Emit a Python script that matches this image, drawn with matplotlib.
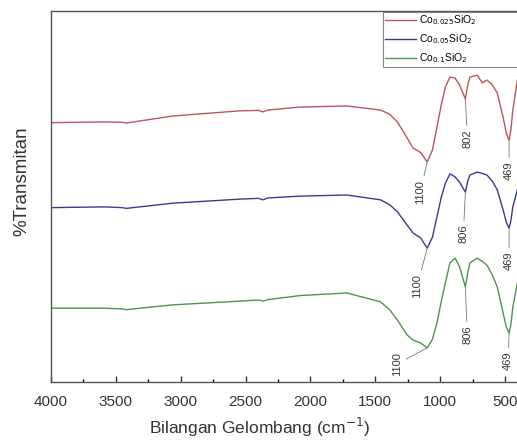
import matplotlib
matplotlib.use("Agg")
import matplotlib.pyplot as plt
from matplotlib.ticker import MultipleLocator

plt.rcParams['font.family'] = ['Liberation Sans', 'DejaVu Sans']

# FTIR spectra (wavenumber in cm-1, transmittance in arbitrary stacked units)
wavenumber = [4000, 3590, 3450, 3420, 3060, 2540, 2400, 2365, 2330, 2080, 1720,
              1460, 1390, 1330, 1255, 1210, 1150, 1100, 1060, 1025, 990, 960,
              925, 885, 850, 806, 785, 770, 715, 675, 640, 600, 560, 515, 490,
              469, 455, 440, 405]

t_0025 = [69.9, 70.1, 70.0, 69.8, 71.7, 73.1, 73.2, 72.8, 73.3, 74.1, 74.4,
          73.3, 72.2, 70.1, 65.8, 63.1, 61.8, 59.3, 62.5, 68.7, 75.0, 79.5,
          82.2, 81.9, 80.0, 76.3, 80.5, 82.2, 82.7, 80.6, 81.4, 80.2, 77.9,
          71.4, 67.0, 65.2, 68.0, 73.3, 81.4]

t_005 = [47.0, 47.2, 47.0, 46.8, 48.2, 49.3, 49.5, 49.1, 49.6, 50.1, 50.4,
         49.1, 47.8, 45.9, 42.3, 40.2, 38.8, 36.1, 39.0, 44.5, 50.0, 53.6,
         56.1, 55.3, 53.8, 51.2, 54.5, 55.8, 56.6, 56.2, 55.8, 54.2, 51.8,
         46.4, 43.0, 41.5, 43.5, 47.2, 51.8]

t_01 = [19.9, 19.9, 19.7, 19.5, 20.8, 21.8, 22.1, 21.8, 22.2, 23.3, 24.0,
        21.6, 19.5, 16.7, 12.7, 11.3, 10.5, 9.2, 11.5, 15.9, 22.0, 26.7,
        32.1, 33.4, 31.0, 25.6, 30.0, 32.1, 33.4, 32.5, 31.5, 29.0, 25.6,
        18.6, 14.8, 13.2, 15.5, 20.2, 26.7]

labels = ["Co$_{0.025}$SiO$_2$", "Co$_{0.05}$SiO$_2$", "Co$_{0.1}$SiO$_2$"]
colors = ["#b8555c", "#3a3a92", "#4c9450"]

# peak labels: (series index, wavenumber at peak, label text)
peaks = [(0, 1100, "1100"), (0, 806, "802"), (0, 469, "469"),
         (1, 1100, "1100"), (1, 806, "806"), (1, 469, "469"),
         (2, 1100, "1100"), (2, 806, "806"), (2, 469, "469")]
peak_offsets = [(-7, -30), (2, -40), (0, -31),
                (-10, -38), (-2, -42), (0, -33),
                (-30, -16), (2, -48), (-1, -28)]

fig = plt.figure(figsize=(5.17, 4.44), dpi=100)
ax = fig.add_axes([51 / 517, 62 / 444, 480 / 517, 371 / 444])

series = [t_0025, t_005, t_01]
for vals, lab, col in zip(series, labels, colors):
    ax.plot(wavenumber, vals, color=col, lw=1.0, label=lab)

for (i, w, txt), off in zip(peaks, peak_offsets):
    y = series[i][wavenumber.index(w)]
    ax.annotate(txt, xy=(w, y), xytext=off, textcoords="offset pixels",
                rotation=90, ha="center", va="center", fontsize=8, color="#333333",
                arrowprops=dict(arrowstyle="-", color="#777777", lw=0.6,
                                shrinkA=1, shrinkB=0))

ax.set_xlim(4000, 300)
ax.set_ylim(0, 100)
ax.xaxis.set_major_locator(MultipleLocator(500))
ax.xaxis.set_minor_locator(MultipleLocator(250))
ax.set_yticks([])
ax.tick_params(axis="x", which="major", direction="in", length=4, width=1,
               labelsize=11, colors="#333333", pad=9)
ax.tick_params(axis="x", which="minor", direction="in", length=2.5, width=1)
for side in ["left", "bottom", "top"]:
    ax.spines[side].set_color("#555555")
    ax.spines[side].set_linewidth(1.0)
ax.spines["right"].set_visible(False)

ax.set_xlabel("Bilangan Gelombang (cm$^{-1}$)", fontsize=12.5, color="#333333")
ax.xaxis.set_label_coords(0.435, -0.092)
ax.set_ylabel("%Transmitan", fontsize=13.5, color="#333333")
ax.yaxis.set_label_coords(-0.044, 0.54)

# legend box runs past the right edge of the picture, as in the original
leg = ax.legend(loc="upper left", bbox_to_anchor=(383 / 517, 1 - 12 / 444, 150 / 517, 0),
                bbox_transform=fig.transFigure, mode="expand", borderaxespad=0,
                fontsize=7.5, frameon=True, fancybox=False, edgecolor="#666666",
                handlelength=3.0, handletextpad=0.3, labelspacing=0.5,
                borderpad=0.15)
leg.get_frame().set_linewidth(0.8)

fig.savefig("out.png", dpi=100)
